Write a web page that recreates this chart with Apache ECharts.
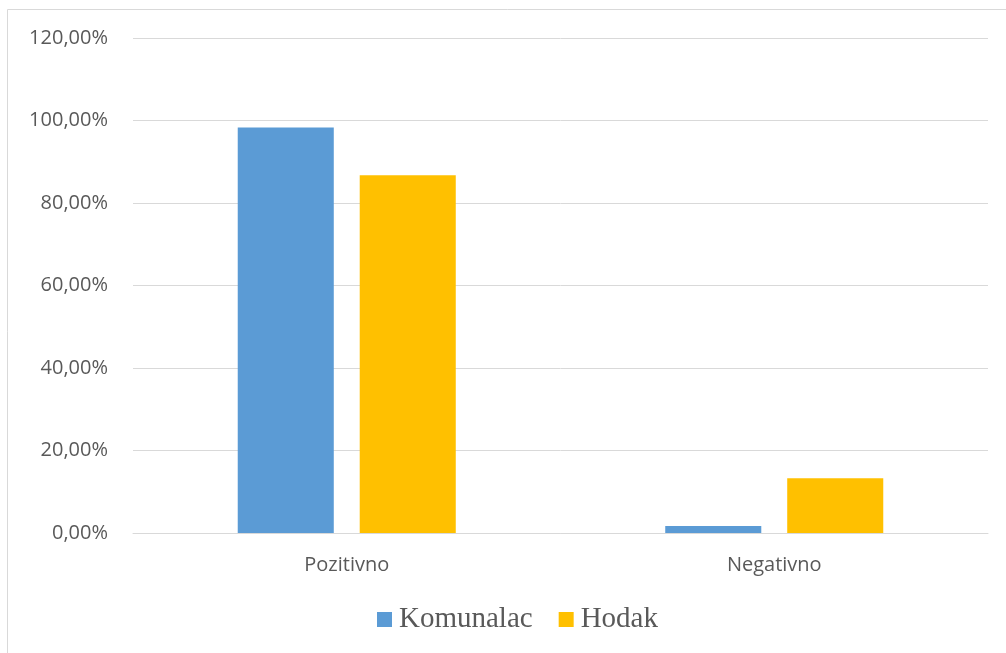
<!DOCTYPE html>
<html>
<head>
<meta charset="utf-8">
<script src="https://cdn.jsdelivr.net/npm/echarts@6/dist/echarts.min.js"></script>
<style>
  html, body { margin: 0; padding: 0; background: #fff; }
  #chart { width: 1006px; height: 653px; }
</style>
</head>
<body>
<div id="chart"></div>
<script>
const categories = ['Pozitivno', 'Negativno'];
const komunalac = [98.3, 1.7];
const hodak = [86.7, 13.3];
const yTicks = [0, 20, 40, 60, 80, 100, 120];

const chart = echarts.init(document.getElementById('chart'));

const fmt = v => v.toFixed(2).replace('.', ',') + '%';

chart.setOption({
  animation: false,
  graphic: [{
    type: 'rect',
    shape: { x: 7.5, y: 9.5, width: 1010, height: 660 },
    style: { fill: 'none', stroke: '#d9d9d9', lineWidth: 1 },
    silent: true
  }],
  grid: { left: 133, right: 18, top: 38, bottom: 120 },
  legend: {
    bottom: 14,
    left: 372,
    itemWidth: 15,
    itemHeight: 15,
    itemGap: 26,
    icon: 'rect',
    textStyle: { fontFamily: 'Liberation Serif', fontSize: 29, color: '#595959', padding: [0, 0, 0, 2] }
  },
  xAxis: {
    type: 'category',
    data: categories,
    axisTick: { show: false },
    axisLine: { lineStyle: { color: '#d9d9d9' } },
    axisLabel: { fontFamily: 'Open Sans', fontSize: 20, color: '#595959', margin: 22 }
  },
  yAxis: {
    type: 'value',
    min: yTicks[0],
    max: yTicks[yTicks.length - 1],
    interval: 20,
    axisLine: { show: false },
    axisTick: { show: false },
    splitLine: { lineStyle: { color: '#d9d9d9', width: 1 } },
    axisLabel: { fontFamily: 'Open Sans', fontSize: 20, color: '#595959', margin: 25, formatter: fmt }
  },
  series: [
    {
      name: 'Komunalac',
      type: 'bar',
      data: komunalac,
      itemStyle: { color: '#5b9bd5' },
      barGap: '27%',
      barCategoryGap: '49%'
    },
    {
      name: 'Hodak',
      type: 'bar',
      data: hodak,
      itemStyle: { color: '#ffc000' }
    }
  ]
});
</script>
</body>
</html>
